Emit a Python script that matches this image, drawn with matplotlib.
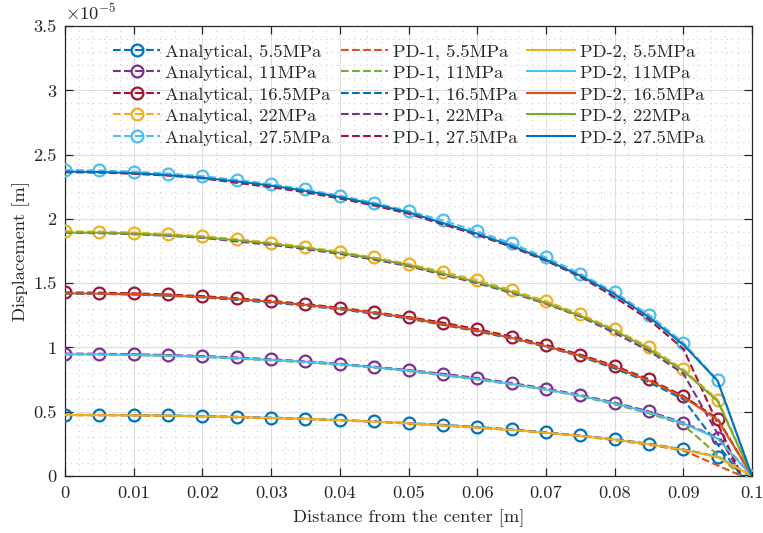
import matplotlib
matplotlib.use("Agg")
import matplotlib.pyplot as plt
from matplotlib.ticker import MultipleLocator, FixedLocator

plt.rcParams["font.family"] = "serif"
plt.rcParams["font.serif"] = ["cmr10", "DejaVu Serif"]
plt.rcParams["mathtext.fontset"] = "cm"
plt.rcParams["axes.formatter.use_mathtext"] = True
plt.rcParams["axes.unicode_minus"] = False

# Radial positions [m]
x_analytical = [0.0, 0.005, 0.01, 0.015, 0.02, 0.025, 0.03, 0.035, 0.04, 0.045, 0.05,
                0.055, 0.06, 0.065, 0.07, 0.075, 0.08, 0.085, 0.09, 0.095, 0.1]
x_pd2 = list(x_analytical)
x_pd1 = [0.0, 0.005, 0.01, 0.015, 0.02, 0.025, 0.03, 0.035, 0.04, 0.045, 0.05,
         0.055, 0.06, 0.065, 0.07, 0.075, 0.08, 0.085, 0.09, 0.0985, 0.1]

pressures = ["5.5MPa", "11MPa", "16.5MPa", "22MPa", "27.5MPa"]

# Displacement values in units of 1e-5 m
analytical_55 = [0.476, 0.475, 0.474, 0.471, 0.466, 0.461, 0.454, 0.446, 0.436, 0.425, 0.412,
                 0.398, 0.381, 0.362, 0.340, 0.315, 0.286, 0.251, 0.207, 0.149, 0.0]
analytical_11 = [0.952, 0.951, 0.947, 0.941, 0.933, 0.922, 0.908, 0.892, 0.873, 0.850, 0.824,
                 0.795, 0.762, 0.723, 0.680, 0.630, 0.571, 0.502, 0.415, 0.297, 0.0]
analytical_165 = [1.428, 1.426, 1.421, 1.412, 1.399, 1.383, 1.362, 1.338, 1.309, 1.275, 1.237,
                  1.193, 1.142, 1.085, 1.020, 0.944, 0.857, 0.752, 0.622, 0.446, 0.0]
analytical_22 = [1.904, 1.902, 1.894, 1.882, 1.866, 1.843, 1.816, 1.783, 1.745, 1.700, 1.649,
                 1.590, 1.523, 1.447, 1.360, 1.259, 1.142, 1.003, 0.830, 0.594, 0.0]
analytical_275 = [2.380, 2.377, 2.368, 2.353, 2.332, 2.304, 2.270, 2.229, 2.181, 2.125, 2.061,
                  1.988, 1.904, 1.809, 1.700, 1.574, 1.428, 1.254, 1.037, 0.743, 0.0]

pd1_55 = [0.473, 0.472, 0.471, 0.468, 0.463, 0.456, 0.449, 0.442, 0.432, 0.421, 0.408,
          0.392, 0.375, 0.357, 0.335, 0.310, 0.279, 0.243, 0.199, 0.0, 0.0]
pd1_11 = [0.945, 0.944, 0.940, 0.934, 0.926, 0.913, 0.899, 0.883, 0.864, 0.842, 0.816,
          0.783, 0.751, 0.712, 0.670, 0.621, 0.557, 0.487, 0.398, 0.0, 0.0]
pd1_165 = [1.418, 1.416, 1.411, 1.402, 1.389, 1.369, 1.348, 1.325, 1.296, 1.262, 1.225,
           1.175, 1.125, 1.069, 1.005, 0.930, 0.836, 0.729, 0.597, 0.0, 0.0]
pd1_22 = [1.891, 1.889, 1.881, 1.869, 1.853, 1.825, 1.798, 1.765, 1.728, 1.683, 1.633,
          1.566, 1.500, 1.425, 1.340, 1.240, 1.113, 0.973, 0.797, 0.0, 0.0]
pd1_275 = [2.363, 2.360, 2.351, 2.337, 2.316, 2.281, 2.247, 2.207, 2.159, 2.104, 2.040,
           1.958, 1.875, 1.782, 1.675, 1.550, 1.392, 1.216, 0.990, 0.0, 0.0]

pd2_55 = [0.474, 0.473, 0.472, 0.469, 0.464, 0.459, 0.452, 0.444, 0.434, 0.423, 0.410,
          0.394, 0.377, 0.358, 0.337, 0.312, 0.283, 0.247, 0.204, 0.146, 0.0]
pd2_11 = [0.947, 0.946, 0.942, 0.936, 0.928, 0.917, 0.903, 0.888, 0.869, 0.846, 0.820,
          0.787, 0.754, 0.716, 0.673, 0.624, 0.565, 0.494, 0.409, 0.291, 0.0]
pd2_165 = [1.421, 1.419, 1.414, 1.405, 1.392, 1.376, 1.355, 1.331, 1.302, 1.269, 1.231,
           1.181, 1.131, 1.074, 1.010, 0.935, 0.848, 0.741, 0.613, 0.437, 0.0]
pd2_22 = [1.894, 1.893, 1.885, 1.873, 1.857, 1.834, 1.807, 1.774, 1.736, 1.692, 1.641,
          1.574, 1.508, 1.433, 1.346, 1.246, 1.131, 0.988, 0.818, 0.582, 0.0]
pd2_275 = [2.368, 2.365, 2.356, 2.341, 2.320, 2.292, 2.259, 2.218, 2.170, 2.114, 2.051,
           1.968, 1.885, 1.791, 1.683, 1.558, 1.414, 1.235, 1.021, 0.740, 0.0]

x_ticks = [0, 0.01, 0.02, 0.03, 0.04, 0.05, 0.06, 0.07, 0.08, 0.09, 0.1]
x_tick_labels = ["0", "0.01", "0.02", "0.03", "0.04", "0.05", "0.06", "0.07", "0.08", "0.09", "0.1"]
y_ticks = [0, 0.5, 1, 1.5, 2, 2.5, 3, 3.5]
y_tick_labels = ["0", "0.5", "1", "1.5", "2", "2.5", "3", "3.5"]

# MATLAB default colour order
c_blue = "#0072BD"
c_orange = "#D95319"
c_yellow = "#EDB120"
c_purple = "#7E2F8E"
c_green = "#77AC30"
c_cyan = "#4DBEEE"
c_red = "#A2142F"

analytical = [analytical_55, analytical_11, analytical_165, analytical_22, analytical_275]
pd1 = [pd1_55, pd1_11, pd1_165, pd1_22, pd1_275]
pd2 = [pd2_55, pd2_11, pd2_165, pd2_22, pd2_275]
col_analytical = [c_blue, c_purple, c_red, c_yellow, c_cyan]
col_pd1 = [c_orange, c_green, c_blue, c_purple, c_red]
col_pd2 = [c_yellow, c_cyan, c_orange, c_green, c_blue]

fs = 13.3

fig = plt.figure(figsize=(7.63, 5.33), dpi=100)
ax = fig.add_axes([0.0852, 0.107, 0.9004, 0.844])

lw = 1.5
for vals, col, p in zip(analytical, col_analytical, pressures):
    ax.plot(x_analytical, vals, "--o", color=col, lw=lw, ms=8.5, mfc="none", mew=1.6,
            label=f"Analytical, {p}", zorder=3)
for vals, col, p in zip(pd1, col_pd1, pressures):
    ax.plot(x_pd1, vals, "--", color=col, lw=lw, label=f"PD-1, {p}", zorder=4)
for vals, col, p in zip(pd2, col_pd2, pressures):
    ax.plot(x_pd2, vals, "-", color=col, lw=lw, label=f"PD-2, {p}", zorder=5)

ax.set_xlim(0, 0.1)
ax.set_ylim(0, 3.5)
ax.xaxis.set_major_locator(FixedLocator(x_ticks))
ax.set_xticklabels(x_tick_labels)
ax.yaxis.set_major_locator(FixedLocator(y_ticks))
ax.set_yticklabels(y_tick_labels)
ax.xaxis.set_minor_locator(MultipleLocator(0.002))
ax.yaxis.set_minor_locator(MultipleLocator(0.1))

ax.grid(True, which="major", color="#dedede", lw=0.8, ls="-")
ax.grid(True, which="minor", color="#cfcfcf", lw=0.8, ls=(0, (1, 4)))
ax.set_axisbelow(True)

axis_col = "#262626"
for s in ax.spines.values():
    s.set_color(axis_col)
    s.set_linewidth(0.9)
ax.tick_params(which="major", direction="in", length=6, width=0.9, color=axis_col,
               top=True, right=True, labelsize=fs, labelcolor=axis_col)
ax.tick_params(axis="x", which="major", pad=7)
ax.tick_params(axis="y", which="major", pad=6)
ax.tick_params(which="minor", length=0, top=True, right=True)

ax.set_xlabel("Distance from the center [m]", fontsize=fs, color=axis_col, labelpad=6)
ax.set_ylabel("Displacement [m]", fontsize=fs, color=axis_col, labelpad=2)
ax.text(0.0, 1.008, r"$\times10^{-5}$", transform=ax.transAxes, fontsize=fs,
        color=axis_col, ha="left", va="bottom")

leg = ax.legend(ncol=3, loc="upper center", bbox_to_anchor=(0.5, 0.999), frameon=False,
                fontsize=fs, handlelength=2.55, columnspacing=0.55, labelspacing=0.28,
                handletextpad=0.27)
for t in leg.get_texts():
    t.set_color(axis_col)

fig.savefig("out.png", dpi=100)
